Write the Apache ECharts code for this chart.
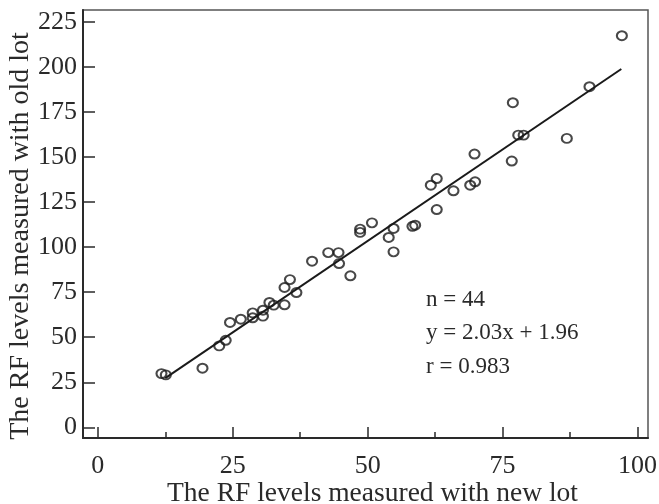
<!DOCTYPE html>
<html>
<head>
<meta charset="utf-8">
<script src="https://cdn.jsdelivr.net/npm/echarts@6/dist/echarts.min.js"></script>
<style>
html,body{margin:0;padding:0;background:#fff;}
#chart{width:659px;height:504px;}
</style>
</head>
<body>
<div id="chart"></div>
<script>
// Data
var newLot = [11.8, 12.6, 19.4, 22.5, 23.7, 24.5, 26.5, 28.7, 28.7, 30.6, 30.6, 31.8, 32.6, 34.6, 34.6, 35.6, 36.8, 39.7, 42.7, 44.6, 44.7, 46.8, 48.6, 48.6, 50.8, 53.9, 54.8, 54.8, 58.3, 58.8, 61.7, 62.8, 62.8, 65.9, 69.0, 69.9, 69.8, 76.9, 76.7, 77.9, 78.9, 86.9, 91.1, 97.1];
var oldLot = [29.8, 29.1, 32.8, 45.2, 48.3, 58.2, 60.0, 63.5, 60.8, 65.0, 61.7, 69.3, 67.8, 68.0, 77.6, 82.0, 74.8, 92.2, 97.0, 97.0, 90.9, 84.1, 108.2, 110.0, 113.5, 105.4, 110.4, 97.4, 111.6, 112.2, 134.4, 138.1, 120.9, 131.3, 134.4, 136.3, 151.7, 180.2, 147.8, 162.2, 162.2, 160.4, 189.1, 217.4];
var fitX = [12.5, 97.0];
var fitY = [27.3, 198.9];
var xTicks = [0, 25, 50, 75, 100];
var xMinorTicks = [12.5, 37.5, 62.5, 87.5];
var yTicks = [0, 25, 50, 75, 100, 125, 150, 175, 200, 225];
var statsText = ['n = 44', 'y = 2.03x + 1.96', 'r = 0.983'];
var xTitle = 'The RF levels measured with new lot';
var yTitle = 'The RF levels measured with old lot';

var points = newLot.map(function (x, i) { return [x, oldLot[i]]; });
var fitLine = fitX.map(function (x, i) { return [x, fitY[i]]; });

var FONT = 'Liberation Serif';
var INK = '#2a2a2a';

var chart = echarts.init(document.getElementById('chart'));
chart.setOption({
  animation: false,
  backgroundColor: '#fff',
  grid: {
    left: 83, right: 11, top: 10, bottom: 66,
    containLabel: false, outerBoundsMode: 'none',
    show: true, borderColor: '#555', borderWidth: 1.5, backgroundColor: 'transparent'
  },
  xAxis: [{
    type: 'value', min: -2.74, max: 101.94, position: 'bottom',
    name: xTitle, nameLocation: 'middle', nameGap: 42, nameMoveOverlap: false,
    nameTextStyle: { fontFamily: FONT, fontSize: 27.5, color: INK, padding: [0, 0, 0, 14] },
    axisLine: { show: true, onZero: false, lineStyle: { color: INK, width: 2 } },
    axisTick: { show: true, inside: true, length: 11, customValues: xTicks, lineStyle: { color: INK, width: 1.5 } },
    axisLabel: { show: true, customValues: xTicks, margin: 15, fontFamily: FONT, fontSize: 26, color: INK },
    splitLine: { show: false }
  }, {
    type: 'value', min: -2.74, max: 101.94, position: 'bottom', offset: 0,
    axisLine: { show: false, onZero: false },
    axisTick: { show: true, inside: true, length: 6, customValues: xMinorTicks, lineStyle: { color: INK, width: 1.5 } },
    axisLabel: { show: false },
    splitLine: { show: false }
  }],
  yAxis: [{
    type: 'value', min: -5.94, max: 231.67,
    name: yTitle, nameLocation: 'middle', nameGap: 48, nameRotate: 90, nameMoveOverlap: false,
    nameTextStyle: { fontFamily: FONT, fontSize: 28, color: INK, padding: [0, 24, 0, 0] },
    axisLine: { show: true, onZero: false, lineStyle: { color: INK, width: 2 } },
    axisTick: { show: true, inside: true, length: 12, customValues: yTicks, lineStyle: { color: INK, width: 1.5 } },
    axisLabel: { show: true, customValues: yTicks, margin: 6, fontFamily: FONT, fontSize: 26, color: INK },
    splitLine: { show: false }
  }],
  series: [{
    type: 'line',
    data: fitLine,
    showSymbol: false,
    symbol: 'none',
    lineStyle: { color: '#1a1a1a', width: 2 },
    z: 2
  }, {
    type: 'scatter',
    data: points,
    symbol: 'circle',
    symbolSize: [10, 9],
    itemStyle: { color: 'rgba(255,255,255,0)', borderColor: '#1a1a1a', borderWidth: 2 },
    z: 3
  }],
  graphic: statsText.map(function (t, i) {
    return {
      type: 'text', left: 426, top: 288 + i * 33.5,
      style: { text: t, fontFamily: FONT, fontSize: 23, fill: INK }
    };
  })
});
</script>
</body>
</html>
